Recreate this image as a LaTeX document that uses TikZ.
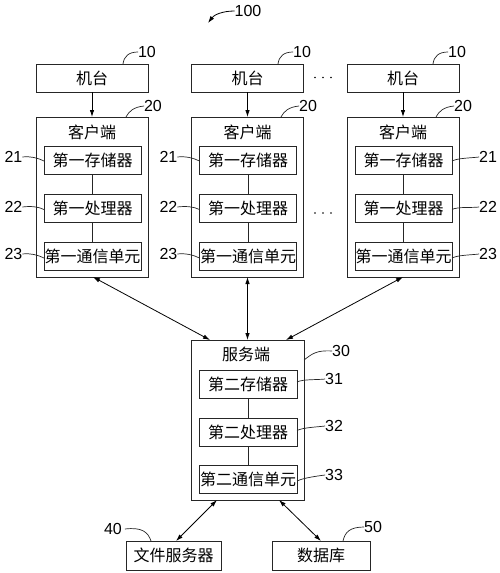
\documentclass[tikz,border=0pt]{standalone}
\usepackage{fontspec}
\setmainfont{Liberation Sans}
\newfontfamily\cjk{Noto Sans CJK SC}
\usetikzlibrary{arrows.meta}
\begin{document}
\begin{tikzpicture}[x=1pt,y=-1pt,
  every node/.style={inner sep=0pt,outer sep=0pt},
  zh/.style={font=\cjk\fontsize{16}{16}\selectfont},
  box/.style={draw=black!85,line width=0.8pt,minimum width=112pt,minimum height=28pt,zh},
  inbox/.style={draw=black!85,line width=0.8pt,minimum width=97pt,minimum height=28pt,zh},
  big/.style={draw=black!85,line width=0.8pt,minimum width=112pt,minimum height=160pt},
  num/.style={font=\fontsize{16}{16}\selectfont},
  lead/.style={line width=0.7pt,black!85},
  link/.style={line width=0.7pt,black!85},
  arr/.style={-{Latex[length=7pt,width=4.5pt]},line width=0.8pt},
  darr/.style={{Latex[length=7pt,width=4.5pt]}-{Latex[length=7pt,width=4.5pt]},line width=0.8pt}]
\useasboundingbox (0,0) rectangle (500,573);

% title
\node[num] (n100) at (248,11) {100};
\draw[arr] (n100.west) .. controls (222,11) and (214,15) .. (208,23);

% machines
\node[box] (m1) at (92,78) {机台};
\node[box] (m2) at (247.5,78) {机台};
\node[box] (m3) at (403,78) {机台};
\foreach \x in {315,323,331} \fill (\x,77.5) circle (0.9pt);

% clients
\foreach \i/\x in {1/92,2/247.5,3/403}{
  \node[big] (c\i) at (\x,197) {};
  \node[zh] (c\i t) at (\x,132) {客户端};
  \node[inbox] (c\i a) at (\x+0.5,160.5) {第一存储器};
  \node[inbox] (c\i b) at (\x+0.5,208) {第一处理器};
  \node[inbox] (c\i c) at (\x+0.5,256.5) {第一通信单元};
  \draw[link] (c\i a) -- (c\i b);
  \draw[link] (c\i b) -- (c\i c);
  \draw[arr] (m\i) -- (c\i);
}
\foreach \x in {315,323,331} \fill (\x,213) circle (0.9pt);

% labels 10 / 20
\foreach \i/\x in {1/147,2/302,3/457}{
  \node[num] (l10\i) at (\x,52) {10};
  \node[num] (l20\i) at (\x+6,106) {20};
}
\draw[lead] (123,64) .. controls (124,56) and (129,52) .. (l101.west);
\draw[lead] (278,64) .. controls (279,56) and (284,52) .. (l102.west);
\draw[lead] (433,64) .. controls (434,56) and (439,52) .. (l103.west);
\draw[lead] (126,117) .. controls (129,111) and (134,107) .. (l201.west);
\draw[lead] (281,117) .. controls (284,111) and (289,107) .. (l202.west);
\draw[lead] (436,117) .. controls (439,111) and (444,107) .. (l203.west);

% labels 21-23 left and middle columns
\foreach \i/\x in {1/13.5,2/168.5}{
  \node[num] (l21\i) at (\x,157) {21};
  \node[num] (l22\i) at (\x,207) {22};
  \node[num] (l23\i) at (\x,254) {23};
  \draw[lead] (l21\i.east) .. controls +(8,-1) and +(-6,-3) .. ([yshift=-0.5pt]c\i a.west);
  \draw[lead] (l22\i.east) .. controls +(8,-1) and +(-6,-3) .. ([yshift=-1.5pt]c\i b.west);
  \draw[lead] (l23\i.east) .. controls +(8,-1) and +(-6,-3) .. ([yshift=-1.5pt]c\i c.west);
}
% right column labels
\node[num] (l213) at (488,157) {21};
\node[num] (l223) at (488,207) {22};
\node[num] (l233) at (488,254) {23};
\draw[lead] ([yshift=-0.5pt]c3a.east) .. controls +(6,-3) and +(-8,1) .. (l213.west);
\draw[lead] ([yshift=-1.5pt]c3b.east) .. controls +(6,-3) and +(-8,1) .. (l223.west);
\draw[lead] ([yshift=-1.5pt]c3c.east) .. controls +(6,-3) and +(-8,1) .. (l233.west);

% server
\node[big,minimum width=113pt] (s) at (247.5,420) {};
\node[zh] (st) at (246,354) {服务端};
\node[inbox,minimum width=98pt] (sa) at (248,384) {第二存储器};
\node[inbox,minimum width=98pt] (sb) at (248,432.5) {第二处理器};
\node[inbox,minimum width=98pt] (sc) at (248,479) {第二通信单元};
\draw[link] (sa) -- (sb);
\draw[link] (sb) -- (sc);

\node[num] (l30) at (341,351) {30};
\node[num] (l31) at (334,379) {31};
\node[num] (l32) at (334,426) {32};
\node[num] (l33) at (334,475) {33};
\draw[lead] ([yshift=-5pt]s.north east |- 0,355) .. controls (312,354) and (316,350) .. (l30.west);
\draw[lead] ([yshift=2pt]sa.east) .. controls +(6,-3) and +(-8,1) .. (l31.west);
\draw[lead] ([yshift=2pt]sb.east) .. controls +(6,-3) and +(-8,1) .. (l32.west);
\draw[lead] ([yshift=-2pt]sc.east) .. controls +(6,-3) and +(-8,1) .. (l33.west);

% client-server arrows
\draw[darr] ([xshift=1pt]c1.south) -- ([xshift=19pt]s.north west);
\draw[darr] (c2.south) -- (s.north);
\draw[darr] (c3.south) -- ([xshift=-18pt]s.north east);

% bottom
\node[box,minimum width=95pt,minimum height=29pt] (fs) at (173.5,555.5) {文件服务器};
\node[box,minimum width=98pt,minimum height=29pt] (db) at (321,555.5) {数据库};
\draw[darr] ([xshift=26pt]s.south west) -- ([xshift=2.5pt]fs.north);
\draw[darr] ([xshift=-25pt]s.south east) -- (db.north);

\node[num] (l40) at (113,529) {40};
\node[num] (l50) at (373,527) {50};
\draw[lead] ([xshift=3pt]l40.east) .. controls (142,527) and (148,532) .. (151,541);
\draw[lead] (343,541) .. controls (345,532) and (350,527) .. (l50.west);
\end{tikzpicture}
\end{document}
